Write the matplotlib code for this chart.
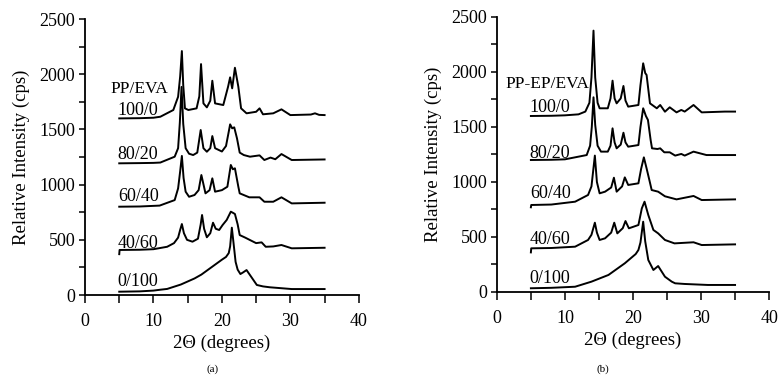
import matplotlib
matplotlib.use('Agg')
import matplotlib.pyplot as plt
from matplotlib.ticker import MultipleLocator

plt.rcParams['font.family'] = ['Liberation Serif', 'DejaVu Serif']

# ---- panel (a): PP/EVA ----
a_100_0_x = [5, 8, 10, 11, 12.9, 13.6, 13.9, 14.15, 14.35, 14.6, 15.1, 16.3, 16.7, 16.95, 17.3, 17.8,
             18.3, 18.6, 19.0, 20.2, 20.9, 21.2, 21.5, 21.9, 22.4, 22.8, 23.6, 25.0, 25.5, 26.0, 27.5,
             28.7, 30.0, 33.0, 33.6, 34.2, 35]
a_100_0_y = [1600, 1602, 1606, 1615, 1676, 1796, 1980, 2210, 1900, 1691, 1676, 1691, 1800, 2092, 1736, 1700,
             1760, 1941, 1736, 1721, 1887, 1972, 1872, 2059, 1887, 1691, 1646, 1660, 1691, 1637, 1646,
             1682, 1630, 1635, 1646, 1632, 1630]

a_80_20_x = [5, 8, 10, 11, 13.1, 13.6, 13.85, 14.1, 14.35, 14.7, 15.2, 15.8, 16.4, 16.9, 17.3, 17.8,
             18.3, 18.6, 19.0, 20.0, 20.6, 21.0, 21.2, 21.5, 21.8, 22.2, 22.6, 23.2, 24.1, 25.5, 26.2,
             27.1, 27.8, 28.7, 30.2, 35]
a_80_20_y = [1193, 1195, 1197, 1200, 1253, 1330, 1560, 1885, 1550, 1330, 1280, 1268, 1290, 1495, 1330, 1298,
             1330, 1440, 1330, 1300, 1350, 1480, 1546, 1510, 1519, 1420, 1290, 1268, 1253, 1265, 1223,
             1245, 1230, 1277, 1223, 1228]

a_60_40_x = [5, 8, 10.9, 13.1, 13.6, 13.9, 14.15, 14.4, 14.7, 15.2, 16.0, 16.6, 17.0, 17.6, 18.2, 18.6,
             19.0, 20.0, 20.8, 21.3, 21.6, 21.9, 22.4, 22.6, 24.0, 25.5, 26.2, 27.5, 28.7, 30.2, 35]
a_60_40_y = [800, 802, 810, 860, 966, 1120, 1260, 1060, 936, 890, 906, 950, 1087, 921, 950, 1057,
             936, 950, 981, 1178, 1139, 1148, 981, 921, 885, 885, 845, 845, 885, 830, 836]

a_40_60_x = [5, 5.05, 8, 10, 12, 13.0, 13.6, 13.9, 14.15, 14.45, 14.9, 15.7, 16.5, 16.9, 17.1, 17.4,
             17.8, 18.3, 18.7, 19.1, 19.6, 20.1, 20.7, 21.3, 21.6, 21.9, 22.3, 22.6, 23.4, 24.1, 25.0,
             25.8, 26.4, 27.5, 28.7, 30.2, 35]
a_40_60_y = [370, 408, 410, 415, 437, 470, 520, 590, 643, 560, 500, 483, 510, 640, 725, 600,
             523, 560, 655, 600, 589, 634, 680, 755, 745, 734, 640, 543, 520, 498, 470,
             477, 437, 440, 453, 423, 428]

a_0_100_x = [5, 8, 10, 11, 12, 14, 16, 17, 18, 19, 20, 20.6, 21.0, 21.2, 21.45, 21.7, 22.0, 22.3,
             22.7, 23.1, 23.6, 24.1, 24.6, 25.1, 26.0, 27.0, 30.2, 35]
a_0_100_y = [30, 33, 40, 48, 55, 95, 150, 185, 230, 275, 320, 345, 380, 440, 610, 470, 300, 230,
             190, 205, 226, 181, 136, 91, 78, 70, 54, 54]

# ---- panel (b): PP-EP/EVA ----
b_100_0_x = [5, 8, 10, 12, 13.0, 13.6, 13.9, 14.2, 14.45, 14.8, 15.1, 16.3, 16.7, 17.0, 17.3, 17.6,
             18.2, 18.6, 18.9, 19.3, 20.8, 21.1, 21.5, 21.8, 22.0, 22.5, 23.5, 24.0, 24.7, 25.4, 26.4,
             27.1, 27.6, 28.9, 30.1, 33.5, 35]
b_100_0_y = [1600, 1602, 1606, 1615, 1640, 1720, 1950, 2376, 1950, 1720, 1670, 1670, 1760, 1921, 1760, 1715,
             1760, 1873, 1740, 1685, 1700, 1880, 2079, 1990, 1973, 1715, 1670, 1700, 1639, 1679, 1633,
             1655, 1640, 1700, 1633, 1640, 1640]

b_80_20_x = [5, 8, 10, 13.2, 13.7, 13.95, 14.2, 14.45, 14.8, 15.3, 16.3, 16.7, 17.0, 17.3, 17.6, 18.2,
             18.6, 18.9, 19.3, 20.8, 21.1, 21.5, 21.9, 22.2, 22.6, 22.8, 23.6, 24.0, 24.6, 25.4, 26.2,
             27.1, 27.6, 28.9, 30.8, 35]
b_80_20_y = [1200, 1202, 1206, 1245, 1330, 1500, 1770, 1520, 1330, 1276, 1276, 1330, 1488, 1360, 1306, 1340,
             1448, 1360, 1321, 1336, 1500, 1670, 1600, 1564, 1380, 1306, 1300, 1306, 1270, 1270, 1240,
             1255, 1240, 1276, 1245, 1245]

b_60_40_x = [5, 5.05, 8, 11.5, 13.4, 13.9, 14.15, 14.4, 14.7, 15.1, 15.9, 16.8, 17.2, 17.6, 18.4, 18.8,
             19.3, 20.8, 21.2, 21.6, 22.0, 22.4, 22.75, 23.7, 24.7, 26.4, 28.9, 30.1, 35]
b_60_40_y = [770, 791, 795, 821, 882, 960, 1100, 1240, 1000, 897, 912, 950, 1039, 912, 960, 1042,
             973, 988, 1120, 1224, 1124, 1020, 927, 912, 870, 842, 873, 836, 842]

b_40_60_x = [5, 5.05, 8, 11.5, 13.4, 13.9, 14.4, 14.7, 15.1, 15.9, 16.8, 17.25, 17.7, 18.5, 18.9, 19.4,
             20.8, 21.3, 21.7, 22.25, 23.0, 23.7, 24.7, 26.1, 28.9, 30.1, 35]
b_40_60_y = [360, 397, 400, 412, 473, 520, 630, 540, 473, 488, 540, 630, 533, 580, 645, 579,
             609, 760, 821, 700, 564, 533, 473, 442, 452, 427, 433]

b_0_100_x = [5, 8, 11.5, 13.9, 16.4, 18.8, 20.4, 20.8, 21.1, 21.5, 21.8, 22.25, 23.0, 23.7, 24.7, 25.7,
             26.2, 27.6, 31.0, 35]
b_0_100_y = [34, 38, 48, 94, 155, 261, 345, 382, 450, 639, 460, 291, 200, 236, 139, 94,
             79, 73, 64, 64]

a_curves = [(a_100_0_x, a_100_0_y), (a_80_20_x, a_80_20_y), (a_60_40_x, a_60_40_y),
            (a_40_60_x, a_40_60_y), (a_0_100_x, a_0_100_y)]
b_curves = [(b_100_0_x, b_100_0_y), (b_80_20_x, b_80_20_y), (b_60_40_x, b_60_40_y),
            (b_40_60_x, b_40_60_y), (b_0_100_x, b_0_100_y)]

ratio_labels = ['100/0', '80/20', '60/40', '40/60', '0/100']
a_label_y = [1676, 1277, 888, 471, 118]
b_label_y = [1677, 1261, 897, 473, 124]


def draw_panel(ax, curves, title, title_pos, label_x, label_y):
    for (xs, ys) in curves:
        ax.plot(xs, ys, color='black', lw=1.4)
    ax.text(title_pos[0], title_pos[1], title, fontsize=12.5, va='center', ha='left')
    for name, ly in zip(ratio_labels, label_y):
        ax.text(label_x, ly, name, fontsize=13, va='center', ha='left')

    ax.set_xlim(0, 40)
    ax.set_ylim(0, 2500)
    ax.spines['top'].set_visible(False)
    ax.spines['right'].set_visible(False)
    ax.spines['left'].set_linewidth(1.3)
    ax.spines['bottom'].set_linewidth(1.3)
    ax.xaxis.set_major_locator(MultipleLocator(10))
    ax.xaxis.set_minor_locator(MultipleLocator(5))
    ax.yaxis.set_major_locator(MultipleLocator(500))
    ax.yaxis.set_minor_locator(MultipleLocator(250))
    ax.tick_params(which='both', direction='out', width=1.1, labelsize=13)
    ax.tick_params(axis='x', which='both', length=6, pad=7)
    ax.tick_params(axis='y', which='both', length=4, pad=3)
    ax.set_xlabel('2\u0398 (degrees)', fontsize=13.5, labelpad=3)
    ax.set_ylabel('Relative Intensity (cps)', fontsize=13.5, labelpad=7)


fig = plt.figure(figsize=(7.8, 3.81), dpi=100)
ax1 = fig.add_axes([0.109, 0.2257, 0.351, 0.7243])
ax2 = fig.add_axes([0.637, 0.2336, 0.349, 0.7218])

draw_panel(ax1, a_curves, 'PP/EVA', (3.65, 1866), 4.8, a_label_y)
draw_panel(ax2, b_curves, 'PP-EP/EVA', (1.2, 1895), 4.85, b_label_y)

fig.text(213 / 780, 1 - 369 / 381, '(a)', fontsize=8, ha='center', va='center')
fig.text(603 / 780, 1 - 369 / 381, '(b)', fontsize=8, ha='center', va='center')

fig.savefig('out.png', dpi=100)
